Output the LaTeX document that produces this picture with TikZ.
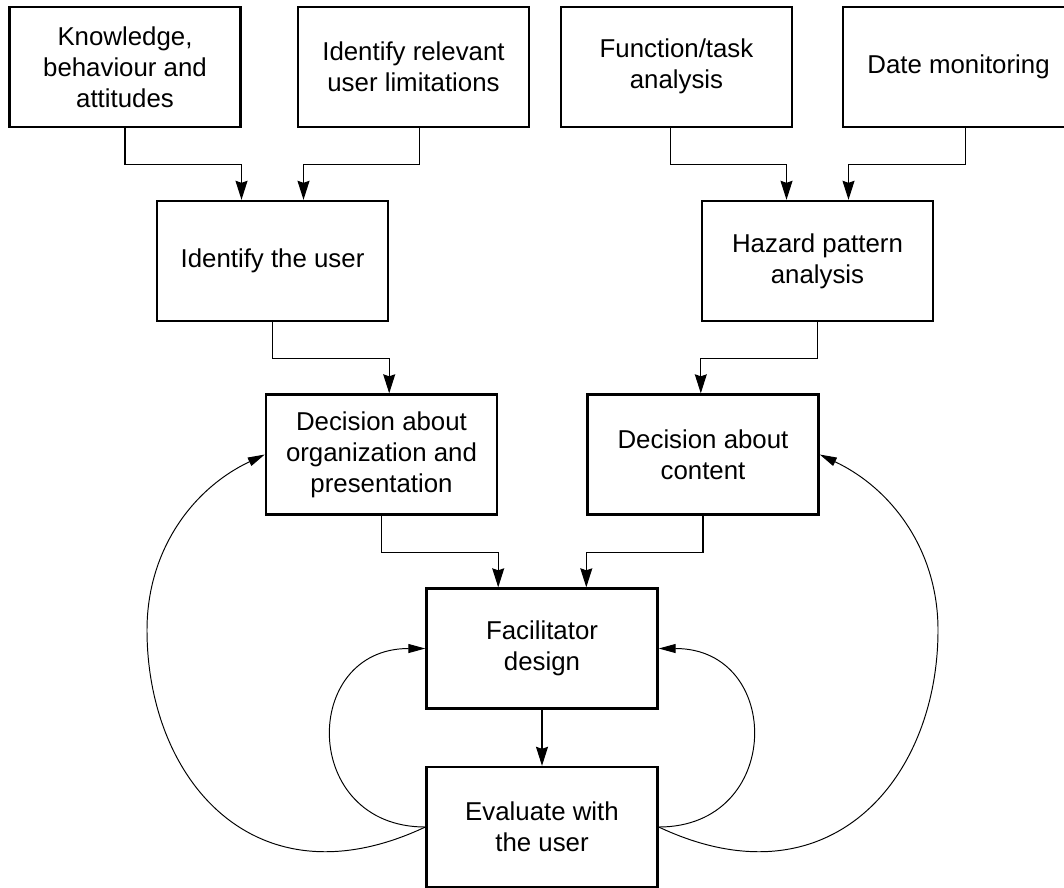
\documentclass[tikz,border=0pt]{standalone}
\usepackage{fontspec}
\setmainfont{Liberation Sans}
\usetikzlibrary{arrows.meta,calc}

\newcommand{\uptext}[1]{\raisebox{3pt}{\begin{tabular}{@{}c@{}}#1\end{tabular}}}

\begin{document}
\begin{tikzpicture}[x=0.02cm,y=-0.02cm,
  box/.style={draw,line width=1.4pt,minimum width=4.62cm,minimum height=2.4cm,
    inner sep=0pt,align=center,font=\fontsize{14.7}{17.6}\selectfont},
  link/.style={line width=0.6pt,-{Stealth[length=3.8mm,width=2.4mm,inset=0.4mm]}},
  back/.style={line width=0.55pt,-{Triangle[length=3.4mm,width=1.8mm]}}]
\clip (0,0) rectangle (1064,887);
% top row
\node[box] (know) at (125,67) {Knowledge,\\behaviour and\\attitudes};
\node[box] (limit) at (413.5,67) {Identify relevant\\user limitations};
\node[box] (func) at (676.5,67) {\uptext{Function/task\\analysis}};
\node[box] (date) at (958.5,67) {Date monitoring};
% second row
\node[box] (user) at (272.5,261) {Identify the user};
\node[box] (hazard) at (817.5,261) {Hazard pattern\\analysis};
% decisions
\node[box] (org) at (381.5,454.5) {Decision about\\organization and\\presentation};
\node[box] (content) at (703,454.5) {Decision about\\content};
% design loop
\node[box] (facil) at (542,648.5) {\uptext{Facilitator\\design}};
\node[box] (eval) at (542,827) {Evaluate with\\the user};

\draw[link] (know.south) -- ++(0,36) -| ($(user.north)+(-31,0)$);
\draw[link] ($(limit.south)+(6,0)$) -- ++(0,36) -| ($(user.north)+(31,0)$);
\draw[link] ($(func.south)+(-6,0)$) -- ++(0,36) -| ($(hazard.north)+(-31,0)$);
\draw[link] ($(date.south)+(7,0)$) -- ++(0,36) -| ($(hazard.north)+(31,0)$);
\draw[link] (user.south) -- ++(0,36) -| (user.east |- org.north);
\draw[link] (hazard.south) -- ++(0,36) -| (hazard.west |- content.north);
\draw[link] (org.south) -- ++(0,37) -| (org.east |- facil.north);
\draw[link] (content.south) -- ++(0,37) -| (content.west |- facil.north);
\draw[link] (facil) -- (eval);

% feedback curves
\draw[back] (eval.west) .. controls +(-125,0) and +(-125,0) .. (facil.west);
\draw[back] (eval.east) .. controls +(125,0) and +(125,0) .. (facil.east);
\draw[back] (eval.west) .. controls +(-170,80) and +(0,150) .. (147,630)
  .. controls +(0,-80) and +(-72,34) .. (org.west);
\draw[back] (eval.east) .. controls +(170,80) and +(0,150) .. (938,630)
  .. controls +(0,-80) and +(72,34) .. (content.east);
\end{tikzpicture}
\end{document}
